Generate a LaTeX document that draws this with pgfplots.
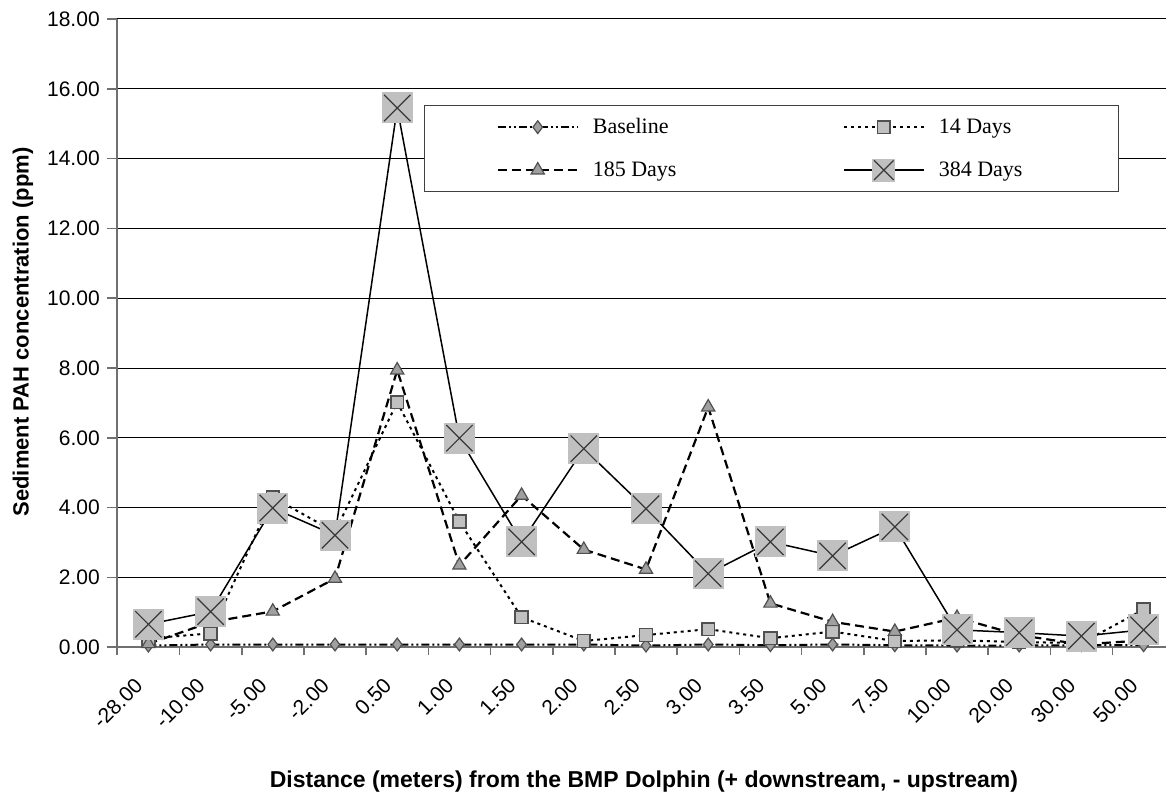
\documentclass[border=0pt]{standalone}
\usepackage{fontspec}
\setmainfont{Liberation Sans}
\newfontfamily\legendfont{Liberation Serif}
\usepackage{pgfplots}
\usepackage{pgfplotstable}
\pgfplotsset{compat=1.18}

\definecolor{boxgray}{HTML}{C0C0C0}
\definecolor{markgray}{HTML}{A0A0A0}
\definecolor{edgegray}{HTML}{505050}
\definecolor{crossgray}{HTML}{383838}
\definecolor{axisgray}{HTML}{707070}

% grey filled square with a cross inside
\pgfdeclareplotmark{boxx}{%
  \pgfpathrectangle{\pgfqpoint{-\pgfplotmarksize}{-\pgfplotmarksize}}{\pgfqpoint{2\pgfplotmarksize}{2\pgfplotmarksize}}%
  \pgfsetfillcolor{boxgray}%
  \pgfusepathqfill
  \pgfpathmoveto{\pgfqpoint{-0.85\pgfplotmarksize}{-0.85\pgfplotmarksize}}%
  \pgfpathlineto{\pgfqpoint{0.85\pgfplotmarksize}{0.85\pgfplotmarksize}}%
  \pgfpathmoveto{\pgfqpoint{-0.85\pgfplotmarksize}{0.85\pgfplotmarksize}}%
  \pgfpathlineto{\pgfqpoint{0.85\pgfplotmarksize}{-0.85\pgfplotmarksize}}%
  \pgfsetstrokecolor{crossgray}%
  \pgfsetlinewidth{0.6pt}%
  \pgfsetdash{}{0pt}%
  \pgfusepathqstroke
}

% sediment PAH concentration (ppm) by station
\pgfplotstableread{
x  base  d14   d185  d384
0  0.05  0.25  0.10  0.66
1  0.08  0.40  0.72  1.02
2  0.08  4.30  1.03  3.99
3  0.08  3.30  1.97  3.21
4  0.08  7.02  7.94  15.45
5  0.08  3.60  2.35  5.99
6  0.08  0.86  4.35  3.02
7  0.08  0.18  2.80  5.69
8  0.05  0.35  2.23  3.97
9  0.08  0.52  6.88  2.11
10 0.06  0.26  1.26  3.02
11 0.08  0.45  0.73  2.62
12 0.06  0.18  0.45  3.45
13 0.05  0.20  0.85  0.50
14 0.05  0.15  0.35  0.42
15 0.06  0.12  0.08  0.32
16 0.06  1.08  0.20  0.50
}\pahdata

\newcommand{\legtext}[2]{\makebox[#1][l]{\rule[-3pt]{0pt}{11pt}#2}}

\begin{document}
\begin{tikzpicture}
\begin{axis}[
  at={(0,0)}, anchor=south west,
  scale only axis, width=524.35pt, height=314.15pt,
  xmin=-0.5, xmax=16.36, ymin=0, ymax=18,
  axis x line*=bottom, axis y line*=left,
  axis line style={axisgray, line width=1pt},
  tick align=outside,
  major tick length=5pt,
  ytick={0,2,...,18},
  ytick style={axisgray, line width=0.8pt},
  ymajorgrids, grid style={black, line width=0.5pt},
  yticklabel style={font=\fontsize{10.5}{12}\selectfont, inner sep=0pt, xshift=-3.6pt,
    /pgf/number format/.cd, fixed, fixed zerofill, precision=2, assume math mode=true},
  xtick={0,...,16},
  xticklabels={-28.00,-10.00,-5.00,-2.00,0.50,1.00,1.50,2.00,2.50,3.00,3.50,5.00,7.50,10.00,20.00,30.00,50.00},
  xtick style={draw=none},
  xticklabel style={font=\fontsize{10.5}{12}\selectfont, inner sep=0pt, anchor=east,
    xshift=-4.7pt, yshift=-12.35pt, rotate=45},
  extra x ticks={-0.5,0.5,...,15.5},
  extra x tick labels={},
  extra x tick style={grid=none, major tick length=4pt, xtick style={draw=axisgray, line width=0.8pt}},
  xlabel={Distance (meters) from the BMP Dolphin (+ downstream, - upstream)},
  xlabel style={font=\fontsize{11.5}{13}\selectfont\bfseries, at={(axis description cs:0.5022,-0.2144)}, anchor=center},
  ylabel={Sediment PAH concentration (ppm)},
  ylabel style={font=\fontsize{11}{13}\selectfont\bfseries, at={(axis description cs:-0.0899,0.5018)}, anchor=center},
  legend columns=2,
  legend cell align=left,
  legend image code/.code={\draw[mark repeat=2,mark phase=2,#1] plot coordinates {(0pt,0pt) (20pt,0pt) (40pt,0pt)};},
  legend style={at={(axis description cs:0.2925,0.863)}, anchor=north west,
    draw=black!75, line width=0.6pt, fill=white,
    inner xsep=36pt, inner ysep=4pt, row sep=8pt,
    font=\legendfont\fontsize{11}{13}\selectfont,
    /tikz/every odd column/.append style={column sep=5pt},
    /tikz/every even column/.append style={column sep=71pt}},
]
\addplot[black, line width=1pt, dash pattern=on 4pt off 1.5pt on 1pt off 1.5pt on 1pt off 1.5pt,
  mark=diamond*, mark size=3.2pt, mark options={solid, fill=markgray, draw=edgegray, line width=0.6pt}]
  table[x=x, y=base] {\pahdata};
\addlegendentry{\legtext{52pt}{Baseline}}
\addplot[black, line width=1pt, dash pattern=on 1.5pt off 2pt,
  mark=square*, mark size=3.2pt, mark options={solid, fill=boxgray, draw=edgegray, line width=0.8pt}]
  table[x=x, y=d14] {\pahdata};
\addlegendentry{\legtext{52pt}{14 Days}}
\addplot[black, line width=1.1pt, dash pattern=on 4.5pt off 2.5pt,
  mark=triangle*, mark size=3.8pt, mark options={solid, fill=markgray, draw=edgegray, line width=0.6pt}]
  table[x=x, y=d185] {\pahdata};
\addlegendentry{\legtext{52pt}{185 Days}}
\addplot[black, line width=0.75pt, solid, mark=boxx, mark size=7.75pt,
  legend image post style={mark size=5.75pt}]
  table[x=x, y=d384] {\pahdata};
\addlegendentry{\legtext{50pt}{384 Days}}
\end{axis}
\pgfresetboundingbox
\path[use as bounding box] (-58.65pt,-79.35pt) rectangle (524.35pt,323.65pt);
\end{tikzpicture}
\end{document}
